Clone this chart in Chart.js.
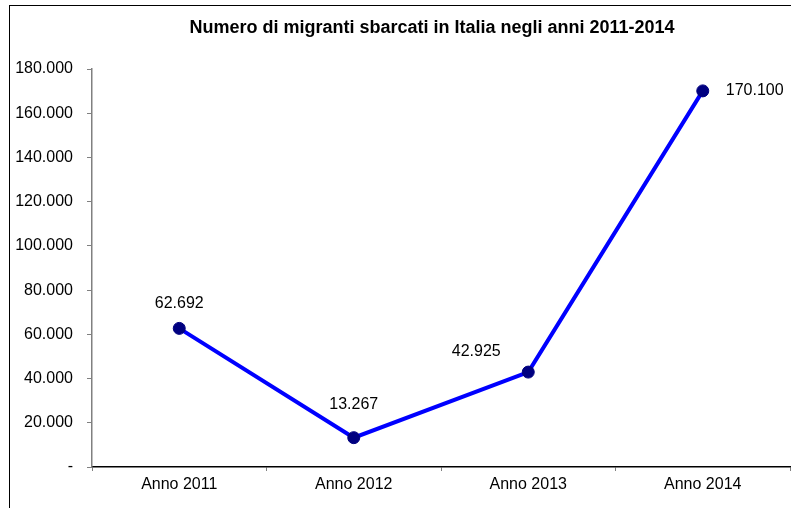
<!DOCTYPE html>
<html>
<head>
<meta charset="utf-8">
<script src="https://cdn.jsdelivr.net/npm/chart.js@4/dist/chart.umd.min.js"></script>
<style>
  html, body { margin: 0; padding: 0; background: #fff; }
  #wrap { position: relative; width: 791px; height: 508px; }
</style>
</head>
<body>
<div id="wrap"><canvas id="c" width="791" height="508"></canvas></div>
<script>
// Migrant arrivals in Italy by year
const categories = ['Anno 2011', 'Anno 2012', 'Anno 2013', 'Anno 2014'];
const arrivals = [62692, 13267, 42925, 170100];
const tickValues = [0, 20000, 40000, 60000, 80000, 100000, 120000, 140000, 160000, 180000];
const tickLabels = ['-', '20.000', '40.000', '60.000', '80.000', '100.000', '120.000', '140.000', '160.000', '180.000'];
const titleText = 'Numero di migranti sbarcati in Italia negli anni 2011-2014';

const FONT = '"Liberation Sans", Arial, Helvetica, sans-serif';

function fmtIt(v) {
  return v.toString().replace(/\B(?=(\d{3})+(?!\d))/g, '.');
}

// Outer frame and title
const framePlugin = {
  id: 'frame',
  beforeDraw(chart) {
    const ctx = chart.ctx;
    ctx.save();
    ctx.strokeStyle = '#000';
    ctx.lineWidth = 1;
    ctx.strokeRect(9.5, 5.5, 900, 700);
    ctx.font = 'bold 18px ' + FONT;
    ctx.fillStyle = '#000';
    ctx.textAlign = 'center';
    ctx.textBaseline = 'middle';
    ctx.fillText(titleText, 432, 28);
    ctx.restore();
  }
};

// Value labels next to each point
const labelOffsets = [[0, -25], [0, -33], [-52, -20], [23, 0]];
const valueLabels = {
  id: 'valueLabels',
  afterDatasetsDraw(chart) {
    const ctx = chart.ctx;
    const meta = chart.getDatasetMeta(0);
    ctx.save();
    ctx.font = '16px ' + FONT;
    ctx.fillStyle = '#000';
    ctx.textBaseline = 'middle';
    meta.data.forEach((pt, i) => {
      const off = labelOffsets[i];
      ctx.textAlign = i === meta.data.length - 1 ? 'left' : 'center';
      ctx.fillText(fmtIt(arrivals[i]), pt.x + off[0], pt.y + off[1]);
    });
    ctx.restore();
  }
};

new Chart(document.getElementById('c'), {
  type: 'line',
  data: {
    labels: categories,
    datasets: [{
      data: arrivals,
      borderColor: '#0000ff',
      borderWidth: 4,
      pointBackgroundColor: '#000080',
      pointBorderColor: '#000080',
      pointBorderWidth: 1,
      pointRadius: 6,
      tension: 0,
      fill: false,
      clip: false
    }]
  },
  options: {
    responsive: false,
    animation: false,
    events: [],
    layout: { autoPadding: false, padding: { top: 69, right: 1, left: 0, bottom: 0 } },
    plugins: {
      legend: { display: false },
      title: { display: false },
      tooltip: { enabled: false }
    },
    scales: {
      x: {
        offset: true,
        grid: {
          offset: true,
          drawOnChartArea: false,
          drawTicks: true,
          tickLength: 4,
          color: '#808080'
        },
        border: { display: true, color: '#000', width: 1.5 },
        ticks: {
          color: '#000',
          font: { family: FONT, size: 16 },
          padding: 4,
          maxRotation: 0
        },
        afterFit(scale) {
          scale.height = 41;
          scale.paddingLeft = 0;
          scale.paddingRight = 0;
        }
      },
      y: {
        min: 0,
        max: 180000,
        afterBuildTicks(scale) { scale.ticks = tickValues.map(v => ({ value: v })); },
        grid: {
          drawOnChartArea: false,
          drawTicks: true,
          tickLength: 5,
          color: '#808080'
        },
        border: { display: true, color: '#808080', width: 1.5 },
        ticks: {
          color: '#000',
          font: { family: FONT, size: 16 },
          padding: 14,
          callback(value) {
            const i = tickValues.indexOf(value);
            return i >= 0 ? tickLabels[i] : '';
          }
        },
        afterFit(scale) { scale.width = 92; }
      }
    }
  },
  plugins: [framePlugin, valueLabels]
});
</script>
</body>
</html>
